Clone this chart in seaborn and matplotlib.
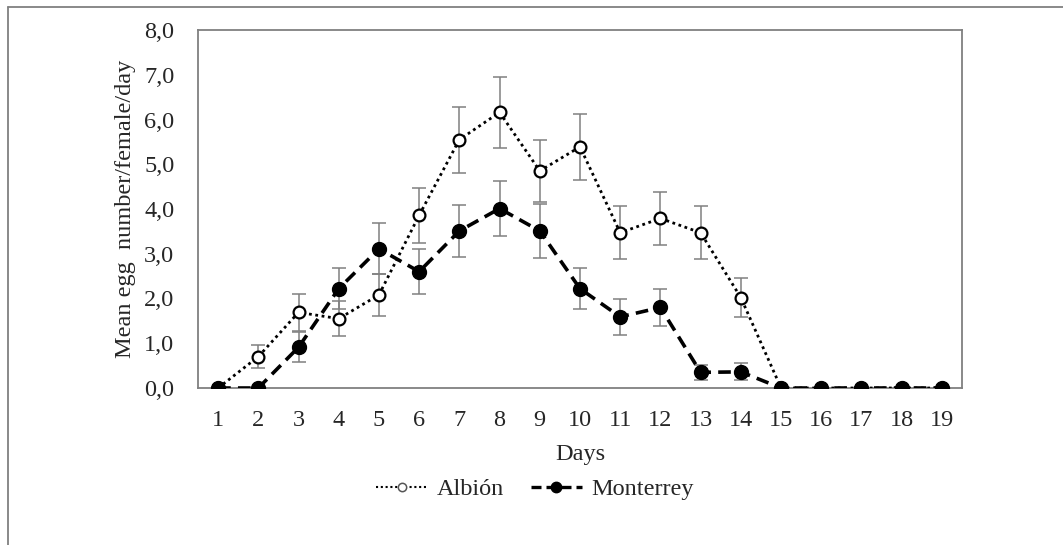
import numpy as np
import pandas as pd
import matplotlib
matplotlib.use('Agg')
import matplotlib.pyplot as plt
import seaborn as sns
from matplotlib.lines import Line2D
from matplotlib.ticker import FixedLocator, FuncFormatter

# --- data ---
days = list(range(1, 20))
albion_mean = [0, 0.70, 1.69, 1.55, 2.08, 3.86, 5.55, 6.16, 4.85, 5.39,
               3.47, 3.79, 3.47, 2.02, 0, 0, 0, 0, 0]
albion_err = [0, 0.26, 0.41, 0.39, 0.46, 0.61, 0.74, 0.79, 0.70, 0.74,
              0.59, 0.60, 0.59, 0.44, 0, 0, 0, 0, 0]
monterrey_mean = [0, 0, 0.91, 2.22, 3.11, 2.60, 3.51, 4.01, 3.51, 2.22,
                  1.59, 1.80, 0.35, 0.36, 0, 0, 0, 0, 0]
monterrey_err = [0, 0, 0.34, 0.46, 0.57, 0.51, 0.59, 0.62, 0.61, 0.46,
                 0.40, 0.42, 0.17, 0.19, 0, 0, 0, 0, 0]
series_names = ['Albión', 'Monterrey']

df = pd.DataFrame({
    'Days': days * 2,
    'mean': albion_mean + monterrey_mean,
    'err': albion_err + monterrey_err,
    'group': [series_names[0]] * len(days) + [series_names[1]] * len(days),
})

sns.set_style('white')
plt.rcParams['font.family'] = ['Liberation Serif', 'DejaVu Serif']
fs = 17.5
plt.rcParams['font.size'] = fs

fig = plt.figure(figsize=(10.63, 5.45), dpi=100)
ax = fig.add_axes([198 / 1063, 1 - 388 / 545, (962 - 198) / 1063, (388 - 30) / 545])

grey = '#808080'
styles = {
    'Albión': dict(ls=(0, (1, 1.3)), lw=2.0, ms=8.5, mfc='white', mew=1.6),
    'Monterrey': dict(ls=(0, (3.5, 2)), lw=2.6, ms=10, mfc='black', mew=1),
}

# error bars first (grey, behind the lines)
for name in series_names:
    sub = df[df['group'] == name]
    ax.errorbar(sub['Days'], sub['mean'], yerr=sub['err'], fmt='none',
                ecolor=grey, elinewidth=1.1, capsize=5, capthick=1.1, zorder=2)

for name in series_names:
    sub = df[df['group'] == name]
    st = styles[name]
    sns.lineplot(data=sub, x='Days', y='mean', ax=ax, color='black',
                 linestyle=st['ls'], linewidth=st['lw'], marker='o',
                 markersize=st['ms'], markerfacecolor=st['mfc'],
                 markeredgecolor='black', markeredgewidth=st['mew'],
                 zorder=3, legend=False)

ax.set_xlim(0.5, 19.5)
ax.set_ylim(0, 8)
ax.set_xticks(days)
ax.xaxis.set_minor_locator(FixedLocator(np.arange(1.5, 19.5, 1)))
ax.tick_params(axis='x', which='major', length=0, pad=16, labelsize=fs)
ax.tick_params(axis='x', which='minor', direction='in', length=6, width=1, color=grey)
ax.set_yticks(np.arange(0, 8.1, 1))
ax.yaxis.set_major_formatter(FuncFormatter(lambda v, p: f'{v:.1f}'.replace('.', ',')))
ax.tick_params(axis='y', direction='in', length=7, width=1, color=grey, pad=17, labelsize=fs)

for sp in ax.spines.values():
    sp.set_visible(True)
    sp.set_color(grey)
    sp.set_linewidth(1.3)

ax.set_xlabel('Days', fontsize=fs, labelpad=9)
ax.set_ylabel('Mean egg  number/female/day', fontsize=fs, labelpad=6)

handles = [
    Line2D([], [], color='black', linestyle=(0, (1, 1.3)), lw=1.5, marker='o', ms=6,
           mfc='white', mec='#555555', mew=1.1),
    Line2D([], [], color='black', linestyle=(0, (3, 1.5)), lw=2.4, marker='o', ms=7.5,
           mfc='black', mec='black'),
]
fig.legend(handles, series_names, loc='center', bbox_to_anchor=(535 / 1063, 1 - 489 / 545),
           ncol=2, frameon=False, fontsize=fs, handlelength=2.1, handletextpad=0.4,
           columnspacing=1.1)

# outer frame (left and top edges visible)
fig.add_artist(Line2D([8 / 1063, 8 / 1063], [0, 1 - 7 / 545], color=grey, lw=1.3,
                      transform=fig.transFigure))
fig.add_artist(Line2D([8 / 1063, 1], [1 - 7 / 545, 1 - 7 / 545], color=grey, lw=1.3,
                      transform=fig.transFigure))

fig.savefig('out.png', dpi=100)
